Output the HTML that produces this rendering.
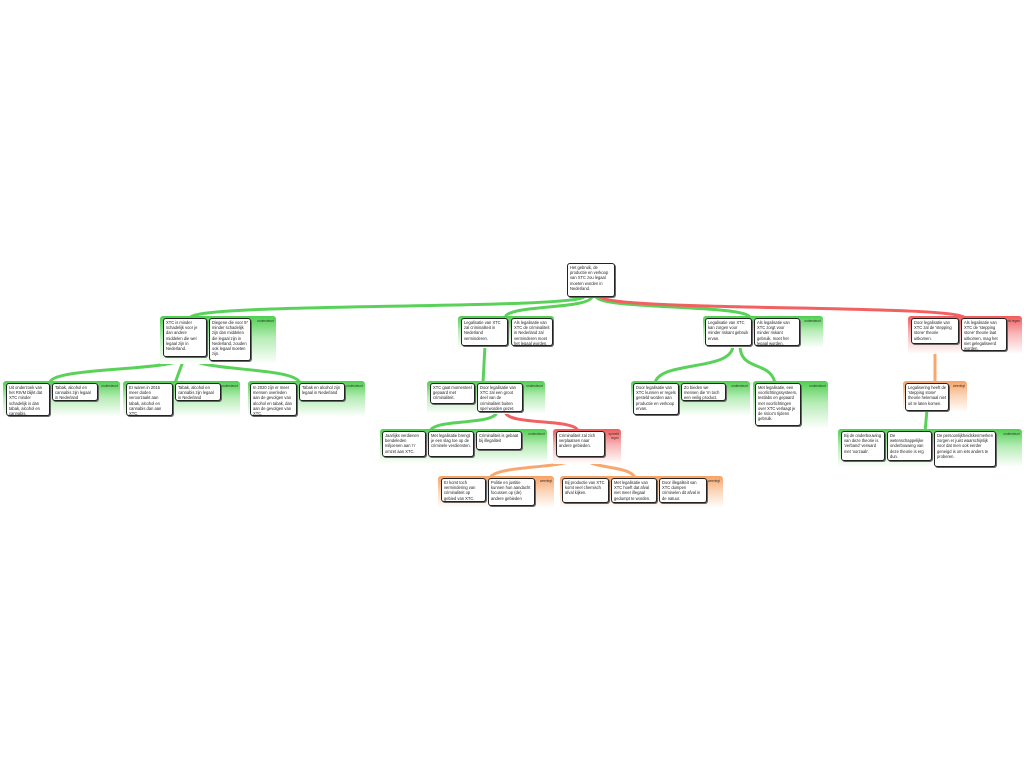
<!DOCTYPE html>
<html><head><meta charset="utf-8"><style>
body{margin:0;width:1024px;height:768px;background:#fff;position:relative;overflow:hidden;font-family:"Liberation Sans",sans-serif}
.c{position:absolute;border-radius:3px 3px 0 0}
.g{background:linear-gradient(to bottom,#4fcf4f 0%,#b5ecb5 45%,#fff 100%)}
.r{background:linear-gradient(to bottom,#f15a5a 0%,#f8b5b5 45%,#fff 100%)}
.o{background:linear-gradient(to bottom,#f7a265 0%,#fbd3b5 45%,#fff 100%)}
.b{position:absolute;background:#fff;border:1.5px solid #222;border-radius:3px;font-size:4.1px;line-height:5.2px;padding:1px 2px;box-sizing:border-box;color:#222;overflow:hidden;box-shadow:1px 1px 0 #666}
.l{position:absolute;font-size:3.2px;color:#333;text-align:right}
svg{position:absolute;left:0;top:0}
</style></head><body>
<svg width="1024" height="768" fill="none" stroke-width="3" stroke-linecap="round">
<g stroke="#5ad25a">
<path d="M585 296 C585 310,190 302,190 318"/>
<path d="M592 296 C592 310,505 304,505 318"/>
<path d="M596 296 C596 310,750 304,750 318"/>
<path d="M185 356 C185 372,50 366,50 383"/>
<path d="M185 356 L175 383"/>
<path d="M190 356 C190 372,295 366,300 383"/>
<path d="M485 345 L483 383"/>
<path d="M497 411 C497 426,435 418,430 431"/>
<path d="M733 345 C733 372,660 360,655 383"/>
<path d="M740 345 C740 372,770 360,775 383"/>
<path d="M927 410 L925 432"/>
</g>
<g stroke="#f26060"><path d="M600 296 C600 312,960 304,965 318"/><path d="M505 411 C505 426,575 418,578 431"/></g>
<g stroke="#f8a86e"><path d="M935 343 L935 383"/><path d="M575 456 C575 470,495 464,490 478"/><path d="M585 456 C585 470,630 464,635 478"/></g>
</svg>

<div class="b" style="left:567px;top:263px;width:48px;height:34px">Het gebruik, de productie en verkoop van XTC zou legaal moeten worden in Nederland.</div>

<div class="c g" style="left:160px;top:316px;width:116px;height:48px"></div><div class="l" style="left:240px;top:319px;width:34px">ondersteunt</div>
<div class="b" style="left:163px;top:318px;width:44px;height:39px">XTC is minder schadelijk voor je dan andere middelen die wel legaal zijn in Nederland.</div>
<div class="b" style="left:209px;top:318px;width:42px;height:43px">Diegene die voor 5* minder schadelijk zijn dan middelen die legaal zijn in Nederland, zouden ook legaal moeten zijn.</div>

<div class="c g" style="left:458px;top:316px;width:96px;height:32px"></div><div class="l" style="left:518px;top:319px;width:34px">ondersteunt</div>
<div class="b" style="left:461px;top:318px;width:47px;height:28px">Legalisatie van XTC zal criminaliteit in Nederland verminderen.</div>
<div class="b" style="left:511px;top:318px;width:42px;height:28px">Als legalisatie van XTC de criminaliteit in Nederland zal verminderen moet het legaal worden.</div>

<div class="c g" style="left:703px;top:316px;width:120px;height:32px"></div><div class="l" style="left:787px;top:319px;width:34px">ondersteunt</div>
<div class="b" style="left:705px;top:318px;width:47px;height:28px">Legalisatie van XTC kan zorgen voor minder riskant gebruik ervan.</div>
<div class="b" style="left:754px;top:318px;width:46px;height:28px">Als legalisatie van XTC zorgt voor minder riskant gebruik, moet het legaal worden.</div>

<div class="c r" style="left:908px;top:316px;width:114px;height:38px"></div><div class="l" style="left:1000px;top:319px;width:20px">spreekt tegen</div>
<div class="b" style="left:911px;top:318px;width:48px;height:26px">Door legalisatie van XTC zal de 'stepping stone' theorie uitkomen.</div>
<div class="b" style="left:961px;top:318px;width:46px;height:33px">Als legalisatie van XTC de 'stepping stone' theorie laat uitkomen, mag het niet gelegaliseerd worden.</div>

<div class="c g" style="left:3px;top:381px;width:117px;height:36px"></div><div class="l" style="left:84px;top:384px;width:34px">ondersteunt</div>
<div class="b" style="left:6px;top:383px;width:44px;height:33px">Uit onderzoek van het RIVM blijkt dat XTC minder schadelijk is dan tabak, alcohol en cannabis.</div>
<div class="b" style="left:52px;top:383px;width:46px;height:18px">Tabak, alcohol en cannabis zijn legaal in Nederland</div>
<div class="c g" style="left:123px;top:381px;width:117px;height:36px"></div><div class="l" style="left:204px;top:384px;width:34px">ondersteunt</div>
<div class="b" style="left:126px;top:383px;width:47px;height:33px">Er waren in 2015 meer doden veroorzaakt aan tabak, alcohol en cannabis dan aan XTC.</div>
<div class="b" style="left:175px;top:383px;width:46px;height:18px">Tabak, alcohol en cannabis zijn legaal in Nederland</div>
<div class="c g" style="left:248px;top:381px;width:117px;height:36px"></div><div class="l" style="left:329px;top:384px;width:34px">ondersteunt</div>
<div class="b" style="left:250px;top:383px;width:47px;height:33px">In 2020 zijn er meer mensen overleden aan de gevolgen van alcohol en tabak, dan aan de gevolgen van XTC.</div>
<div class="b" style="left:299px;top:383px;width:46px;height:18px">Tabak en alcohol zijn legaal in Nederland</div>

<div class="c g" style="left:427px;top:381px;width:118px;height:33px"></div><div class="l" style="left:509px;top:384px;width:34px">ondersteunt</div>
<div class="b" style="left:430px;top:383px;width:45px;height:21px">XTC gaat momenteel gepaard met criminaliteit.</div>
<div class="b" style="left:477px;top:383px;width:46px;height:29px">Door legalisatie van XTC zal een groot deel van de criminaliteit buiten spel worden gezet.</div>

<div class="c g" style="left:380px;top:429px;width:167px;height:35px"></div><div class="l" style="left:511px;top:432px;width:34px">ondersteunt</div>
<div class="b" style="left:382px;top:431px;width:44px;height:26px">Jaarlijks verdienen bendeleden miljoenen aan 'n' omzet aan XTC.</div>
<div class="b" style="left:428px;top:431px;width:46px;height:26px">Met legalisatie brengt je een slag toe op de criminele verdiensten.</div>
<div class="b" style="left:476px;top:431px;width:46px;height:19px">Criminaliteit is gebaat bij illegaliteit</div>
<div class="c r" style="left:553px;top:429px;width:68px;height:35px"></div><div class="l" style="left:602px;top:432px;width:17px">spreekt tegen</div>
<div class="b" style="left:556px;top:431px;width:49px;height:26px">Criminaliteit zal zich verplaatsen naar andere gebieden.</div>

<div class="c o" style="left:438px;top:476px;width:116px;height:32px"></div><div class="l" style="left:532px;top:479px;width:20px">weerlegt</div>
<div class="b" style="left:441px;top:478px;width:45px;height:24px">Er komt toch vermindering van criminaliteit op gebied van XTC.</div>
<div class="b" style="left:488px;top:478px;width:47px;height:28px">Politie en justitie kunnen hun aandacht focussen op (de) andere gebieden</div>
<div class="c o" style="left:560px;top:476px;width:163px;height:32px"></div><div class="l" style="left:700px;top:479px;width:20px">weerlegt</div>
<div class="b" style="left:562px;top:478px;width:47px;height:25px">Bij productie van XTC komt veel chemisch afval kijken.</div>
<div class="b" style="left:611px;top:478px;width:46px;height:25px">Met legalisatie van XTC hoeft dat afval niet meer illegaal gedumpt te worden.</div>
<div class="b" style="left:659px;top:478px;width:48px;height:25px">Door illegaliteit van XTC dumpen criminelen dit afval in de natuur.</div>

<div class="c g" style="left:631px;top:381px;width:119px;height:35px"></div><div class="l" style="left:714px;top:384px;width:34px">ondersteunt</div>
<div class="b" style="left:633px;top:383px;width:46px;height:32px">Door legalisatie van XTC kunnen er regels gesteld worden aan productie en verkoop ervan.</div>
<div class="b" style="left:681px;top:383px;width:45px;height:18px">Zo bieden we mensen die 'm toch een veilig product.</div>
<div class="c g" style="left:753px;top:381px;width:75px;height:48px"></div><div class="l" style="left:792px;top:384px;width:34px">ondersteunt</div>
<div class="b" style="left:755px;top:383px;width:46px;height:43px">Met legalisatie, een voorlichtingssysteem, testlabs en gepaard met voorlichtingen over XTC verlaagt je de risico's tijdens gebruik.</div>

<div class="c o" style="left:903px;top:381px;width:64px;height:31px"></div><div class="l" style="left:945px;top:384px;width:20px">weerlegt</div>
<div class="b" style="left:905px;top:383px;width:44px;height:28px">Legalisering heeft de 'stepping stone' theorie helemaal niet uit te laten komen.</div>
<div class="c g" style="left:838px;top:429px;width:184px;height:38px"></div><div class="l" style="left:986px;top:432px;width:34px">ondersteunt</div>
<div class="b" style="left:841px;top:431px;width:44px;height:30px">Bij de onderbouwing van deze theorie is 'verband' verward met 'oorzaak'.</div>
<div class="b" style="left:887px;top:431px;width:45px;height:30px">De wetenschappelijke onderbouwing van deze theorie is erg dun.</div>
<div class="b" style="left:934px;top:431px;width:62px;height:36px">De persoonlijkheidskenmerken zorgen er juist waarschijnlijk voor dat men ook eerder geneigd is om iets anders te proberen.</div>
</body></html>
